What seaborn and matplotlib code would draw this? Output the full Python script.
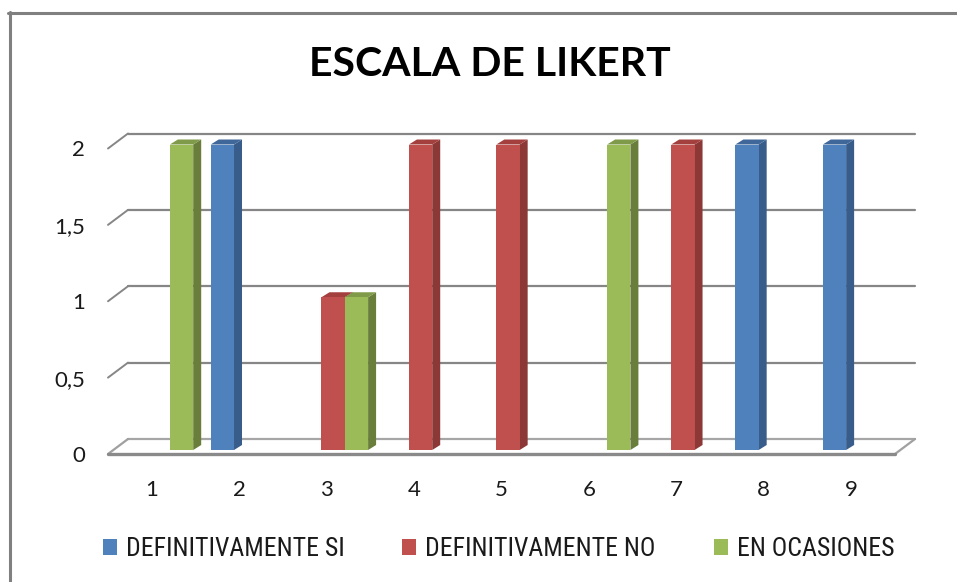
import numpy as np
import pandas as pd
import seaborn as sns
import matplotlib
matplotlib.use("Agg")
import matplotlib.pyplot as plt
import matplotlib.transforms as mtransforms
from matplotlib.patches import Polygon
from matplotlib.lines import Line2D
from matplotlib import font_manager

# ---------------- data ----------------
categories = ["1", "2", "3", "4", "5", "6", "7", "8", "9"]
series_names = ["DEFINITIVAMENTE SI", "DEFINITIVAMENTE NO", "EN OCASIONES"]
definitivamente_si = [0, 2, 0, 0, 0, 0, 0, 2, 2]
definitivamente_no = [0, 0, 1, 2, 2, 0, 2, 0, 0]
en_ocasiones = [2, 0, 1, 0, 0, 2, 0, 0, 0]
y_ticks = [0, 0.5, 1, 1.5, 2]
y_tick_labels = ["0", "0,5", "1", "1,5", "2"]
title = "ESCALA DE LIKERT"

front_colors = ["#4F81BD", "#C0504D", "#9BBB59"]
side_colors = ["#385D8A", "#8C3836", "#6A7E3C"]
top_colors = ["#3F679A", "#A3403E", "#7F9A48"]

df = pd.DataFrame({
    "cat": categories * 3,
    "val": definitivamente_si + definitivamente_no + en_ocasiones,
    "serie": [series_names[0]] * 9 + [series_names[1]] * 9 + [series_names[2]] * 9,
})

names = {f.name for f in font_manager.fontManager.ttflist}
main_font = "Lato" if "Lato" in names else "DejaVu Sans"
legend_font = main_font
legend_size = 16.5
for cand in ["Liberation Sans Narrow", "Roboto Condensed", "Open Sans Condensed"]:
    if cand in names:
        legend_font = cand
        legend_size = 18.5
        break

sns.set_theme(style="white")
plt.rcParams["font.family"] = [main_font, "DejaVu Sans"]

DPI = 100
fig = plt.figure(figsize=(9.57, 5.82), dpi=DPI)
W, H = 957, 582
# front plane of the floor: x 108..895 px, y(0)=454 px, y(2)=148.5 px
ax = fig.add_axes([108 / W, (H - 454) / H, 787 / W, 305.5 / H])
ax.set_zorder(5)

sns.barplot(data=df, x="cat", y="val", hue="serie", palette=front_colors,
            hue_order=series_names, order=categories, width=0.8, ax=ax,
            saturation=1, edgecolor="none", linewidth=0, zorder=3)
ax.set_xlim(-0.5, len(categories) - 0.5)
ax.set_ylim(0, 2)
for s in ax.spines.values():
    s.set_visible(False)
ax.set_xlabel("")
ax.set_ylabel("")
ax.set_yticks(y_ticks)
ax.set_yticklabels(y_tick_labels)
ax.tick_params(axis="y", length=0, pad=16.5, labelsize=16, labelcolor="#1a1a1a")
ax.tick_params(axis="x", length=0, pad=19, labelsize=16, labelcolor="#1a1a1a")
ax.grid(False)
ax.patch.set_alpha(0)

T = ax.transData
def px(x, y):
    return T.transform((x, y))

# back-wall depth offset (display px)
BX, BY = 20, 15
x_left, x_right = -0.5, len(categories) - 0.5
grid_col = "#868686"
for v in y_ticks:
    fx0, fy = px(x_left, v)
    fx1, _ = px(x_right, v)
    if v == 0:
        continue
    fig.add_artist(Line2D([fx0 + BX, fx1 + BX], [fy + BY, fy + BY], transform=None,
                          color=grid_col, lw=1.6, zorder=1))
    fig.add_artist(Line2D([fx0, fx0 + BX], [fy, fy + BY], transform=None,
                          color=grid_col, lw=1.4, zorder=1))

# floor
fx0, fy = px(x_left, 0)
fx1, _ = px(x_right, 0)
floor = Polygon([(fx0, fy), (fx1, fy), (fx1 + BX, fy + BY), (fx0 + BX, fy + BY)],
                closed=True, transform=None, facecolor="#ffffff", edgecolor="none", zorder=1)
fig.add_artist(floor)
fig.add_artist(Line2D([fx0 + BX, fx1 + BX], [fy + BY, fy + BY], transform=None,
                      color="#a6a6a6", lw=1.6, zorder=1.1))
fig.add_artist(Line2D([fx0, fx0 + BX], [fy, fy + BY], transform=None,
                      color="#a0a0a0", lw=1.6, zorder=1.1))
fig.add_artist(Line2D([fx1, fx1 + BX], [fy, fy + BY], transform=None,
                      color="#a0a0a0", lw=1.6, zorder=1.1))
fig.add_artist(Line2D([fx0, fx1], [fy, fy], transform=None,
                      color="#8a8a8a", lw=2.4, zorder=1.2))

# 3D bars
SX, SY = 6.5, 4      # bar shift from floor front plane
DX, DY = 8, 5        # bar depth
shift = mtransforms.ScaledTranslation(SX / DPI, SY / DPI, fig.dpi_scale_trans)
bars = [p for p in ax.patches]
n = len(categories)
for i, bar in enumerate(bars[:3 * n]):
    si = i // n
    bar.set_transform(T + shift)
    bar.set_zorder(3)
    h = bar.get_height()
    if h <= 0:
        bar.set_visible(False)
        continue
    x0 = bar.get_x()
    w = bar.get_width()
    ax0, ay0 = px(x0, 0)
    ax1, ay1 = px(x0 + w, h)
    ax0 += SX; ax1 += SX; ay0 += SY; ay1 += SY
    side = Polygon([(ax1, ay0), (ax1, ay1), (ax1 + DX, ay1 + DY), (ax1 + DX, ay0 + DY)],
                   closed=True, transform=None, facecolor=side_colors[si],
                   edgecolor="none", zorder=2)
    top = Polygon([(ax0, ay1), (ax1, ay1), (ax1 + DX, ay1 + DY), (ax0 + DX, ay1 + DY)],
                  closed=True, transform=None, facecolor=top_colors[si],
                  edgecolor="none", zorder=2.5)
    ax.add_artist(side)
    ax.add_artist(top)
    side.set_clip_on(False)
    top.set_clip_on(False)
    bar.set_clip_on(False)

# legend
handles, labels = ax.get_legend_handles_labels()
if ax.legend_:
    ax.legend_.remove()
fs_px = legend_size / 72 * DPI
fig.legend(handles, labels, loc="center", bbox_to_anchor=(498.5 / W, 1 - 549 / H),
           ncol=3, frameon=False, prop={"family": legend_font, "size": legend_size},
           handlelength=14 / fs_px, handleheight=14 / fs_px, handletextpad=9 / fs_px,
           columnspacing=58 / fs_px, borderpad=0, labelcolor="#1a1a1a")

# title
fig.text(490 / W, 1 - 64.5 / H, title, ha="center", va="center",
         fontsize=29.5, fontweight="bold", color="#000000")

# chart border (top and left visible)
fig.add_artist(Line2D([9.5 / W, 9.5 / W], [0, 1 - 12 / H], transform=fig.transFigure,
                      color="#808080", lw=2.2))
fig.add_artist(Line2D([8 / W, 1], [1 - 13 / H, 1 - 13 / H], transform=fig.transFigure,
                      color="#808080", lw=2.2))

fig.savefig("out.png", dpi=DPI, facecolor="white")
